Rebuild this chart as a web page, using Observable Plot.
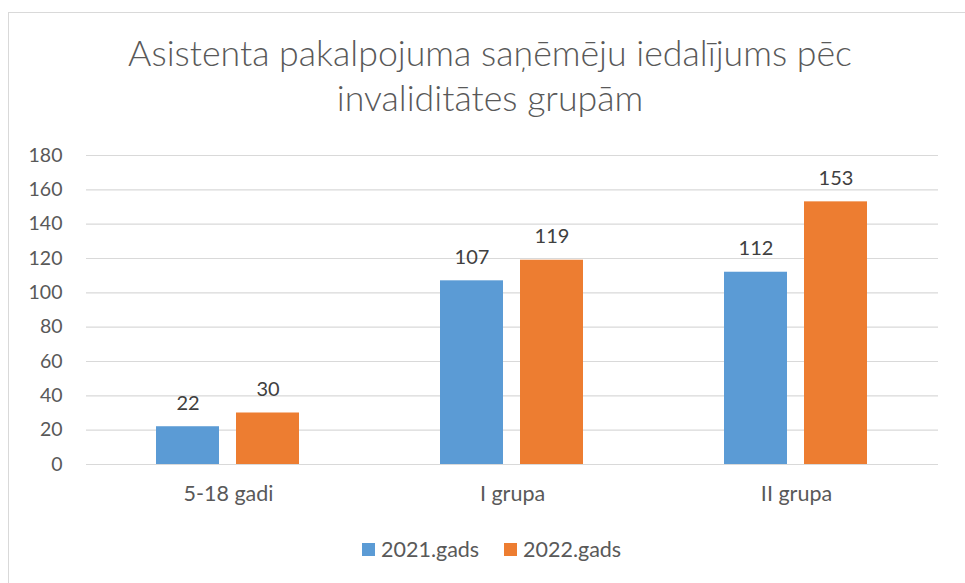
<!DOCTYPE html>
<html>
<head>
<meta charset="utf-8">
<script src="https://cdn.jsdelivr.net/npm/d3@7"></script>
<script src="https://cdn.jsdelivr.net/npm/@observablehq/plot@0.6"></script>
<style>
  html, body { margin: 0; padding: 0; background: #fff; overflow: hidden; }
  body { width: 965px; height: 583px; position: relative; font-family: Lato, "Open Sans", sans-serif; color: #595959; }
  #frame { position: absolute; left: 8px; top: 12px; width: 980px; height: 600px; border: 1px solid #d9d9d9; box-sizing: border-box; }
  #title { position: absolute; left: 40px; width: 900px; top: 30px; text-align: center; font-size: 35.7px; font-weight: 300; line-height: 45px; color: #595959; white-space: nowrap; }
  #chart { position: absolute; left: 0; top: 130px; }
  .item { position: absolute; top: 536px; height: 26px; display: flex; align-items: center; font-size: 21.5px; color: #595959; white-space: nowrap; }
  .sw { width: 13px; height: 13px; margin-right: 6px; }
</style>
</head>
<body>
<div id="frame"></div>
<div id="title">Asistenta pakalpojuma saņēmēju iedalījums pēc<br>invaliditātes grupām</div>
<div id="chart"></div>
<script>
const categories = ["5-18 gadi", "I grupa", "II grupa"];
const series = ["2021.gads", "2022.gads"];
const values2021 = [22, 107, 112];
const values2022 = [30, 119, 153];
const yTicks = [0, 20, 40, 60, 80, 100, 120, 140, 160, 180];
const colors = ["#5B9BD5", "#ED7D31"];

const data = [];
categories.forEach((c, i) => {
  data.push({category: c, series: series[0], value: values2021[i]});
  data.push({category: c, series: series[1], value: values2022[i]});
});

const plot = Plot.plot({
  width: 965,
  height: 390,
  marginTop: 25,
  marginBottom: 56,
  marginLeft: 85,
  marginRight: 27,
  style: {fontFamily: "Lato, 'Open Sans', sans-serif", fontSize: "19.5px", color: "#595959", background: "transparent"},
  fx: {domain: categories, padding: 0, label: null},
  x: {domain: series, paddingInner: 0.21, paddingOuter: 0.86, axis: null},
  y: {domain: [0, 180], label: null},
  color: {domain: series, range: colors},
  marks: [
    Plot.ruleY(yTicks, {stroke: "#d9d9d9", strokeWidth: 1.2}),
    Plot.axisY(yTicks, {tickSize: 0, tickPadding: 24, fontSize: 19.5, fill: "#595959", label: null}),
    Plot.axisFx({anchor: "bottom", tickSize: 0, tickPadding: 21, fontSize: 21.5, fill: "#595959", label: null}),
    Plot.barY(data, {fx: "category", x: "series", y: "value", fill: "series"}),
    Plot.text(data, {fx: "category", x: "series", y: "value", text: d => String(d.value), dy: -17, lineAnchor: "bottom", fontSize: 20, fill: "#404040"})
  ]
});
document.getElementById("chart").appendChild(plot);

const legendLeft = [362, 504];
series.forEach((s, i) => {
  const item = document.createElement("div");
  item.className = "item";
  item.style.left = legendLeft[i] + "px";
  const sw = document.createElement("div");
  sw.className = "sw";
  sw.style.background = colors[i];
  const label = document.createElement("span");
  label.textContent = s;
  item.appendChild(sw);
  item.appendChild(label);
  document.body.appendChild(item);
});
</script>
</body>
</html>
